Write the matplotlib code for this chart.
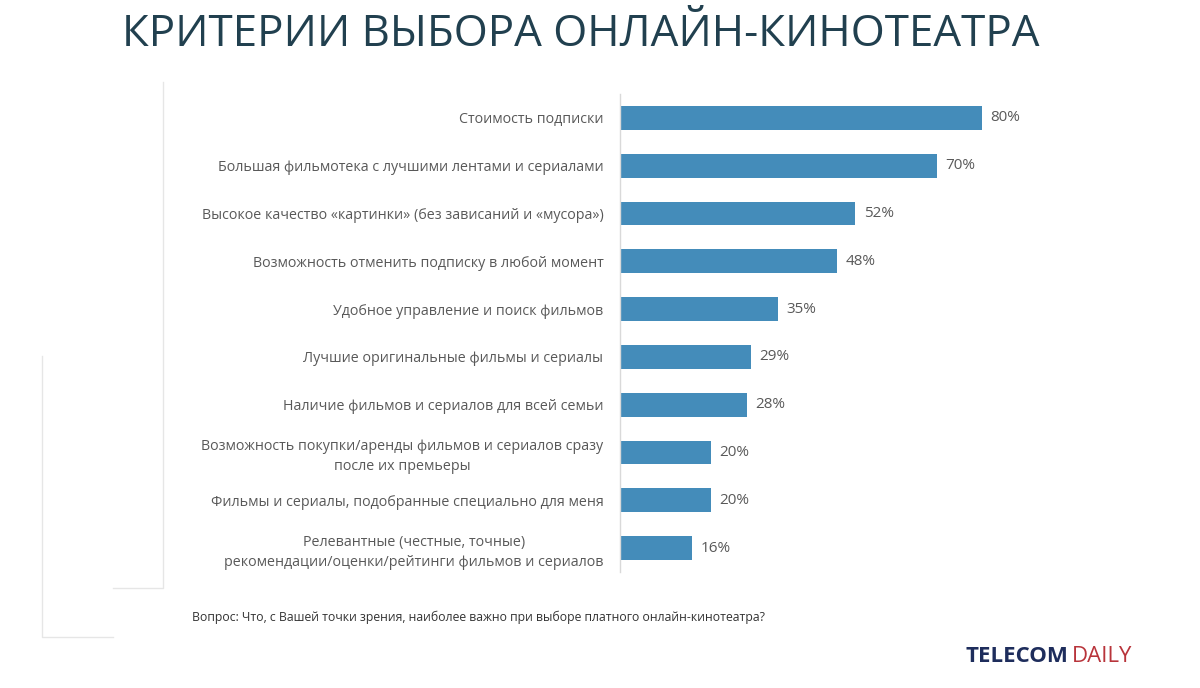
import matplotlib
matplotlib.use("Agg")
import matplotlib.pyplot as plt
from matplotlib.lines import Line2D

plt.rcParams["font.family"] = ["Open Sans", "DejaVu Sans"]

# ── data ────────────────────────────────────────────────────────────────
criteria = [
    "Стоимость подписки",
    "Большая фильмотека с лучшими лентами и сериалами",
    "Высокое качество «картинки» (без зависаний и «мусора»)",
    "Возможность отменить подписку в любой момент",
    "Удобное управление и поиск фильмов",
    "Лучшие оригинальные фильмы и сериалы",
    "Наличие фильмов и сериалов для всей семьи",
    "Возможность покупки/аренды фильмов и сериалов сразу\nпосле их премьеры",
    "Фильмы и сериалы, подобранные специально для меня",
    "Релевантные (честные, точные)\nрекомендации/оценки/рейтинги фильмов и сериалов",
]
shares = [80, 70, 52, 48, 35, 29, 28, 20, 20, 16]

title = "КРИТЕРИИ ВЫБОРА ОНЛАЙН-КИНОТЕАТРА"
question = "Вопрос: Что, с Вашей точки зрения, наиболее важно при выборе платного онлайн-кинотеатра?"

W, H = 1200, 688
BAR_COLOR = "#448cba"
TEXT_GRAY = "#595959"

fig = plt.figure(figsize=(W / 100, H / 100), dpi=100)
fig.patch.set_facecolor("white")

ax = fig.add_axes([620 / W, 1 - 572 / H, (1072.5 - 620) / W, (572 - 94) / H])
pos = list(range(len(criteria)))
ax.barh(pos, shares, height=0.5, color=BAR_COLOR)
ax.set_xlim(0, 100)
ax.set_ylim(len(criteria) - 0.5, -0.5)

ax.set_yticks(pos)
ax.set_yticklabels(criteria, fontsize=10.3, color=TEXT_GRAY)
for lab in ax.get_yticklabels():
    lab.set_multialignment("center")
    lab.set_linespacing(1.45)
ax.tick_params(axis="y", length=0, pad=12)
ax.set_xticks([])

for s in ["top", "right", "bottom"]:
    ax.spines[s].set_visible(False)
ax.spines["left"].set_color("#d9d9d9")
ax.spines["left"].set_linewidth(1.0)

for y, v in zip(pos, shares):
    ax.annotate(f"{v}%", (v, y), xytext=(6, 0), textcoords="offset points",
                va="center", ha="left", fontsize=11, color=TEXT_GRAY)

# title
fig.text(122 / W, 1 - 35 / H, title, fontsize=31.6, color="#21404f",
         ha="left", va="center")

# question footnote
fig.text(192 / W, 1 - 617 / H, question, fontsize=8.8, color="#333333",
         ha="left", va="center")

# faint frame lines on the left
def fx(x):
    return x / W

def fy(y):
    return 1 - y / H

frame_col = "#e6e6e6"
fig.add_artist(Line2D([fx(163), fx(163), fx(113)], [fy(82), fy(588), fy(588)],
                      color=frame_col, lw=1.0, transform=fig.transFigure))
fig.add_artist(Line2D([fx(42), fx(42), fx(113)], [fy(356), fy(637), fy(637)],
                      color=frame_col, lw=1.0, transform=fig.transFigure))

# logo
fig.text(965 / W, 1 - 657 / H, "TELECOM", fontsize=16, fontweight="bold",
         color="#1e2d5c", ha="left", va="center")
fig.text(1072 / W, 1 - 657 / H, "DAILY", fontsize=16, color="#b8343b",
         ha="left", va="center")

fig.savefig("out.png", dpi=100)
